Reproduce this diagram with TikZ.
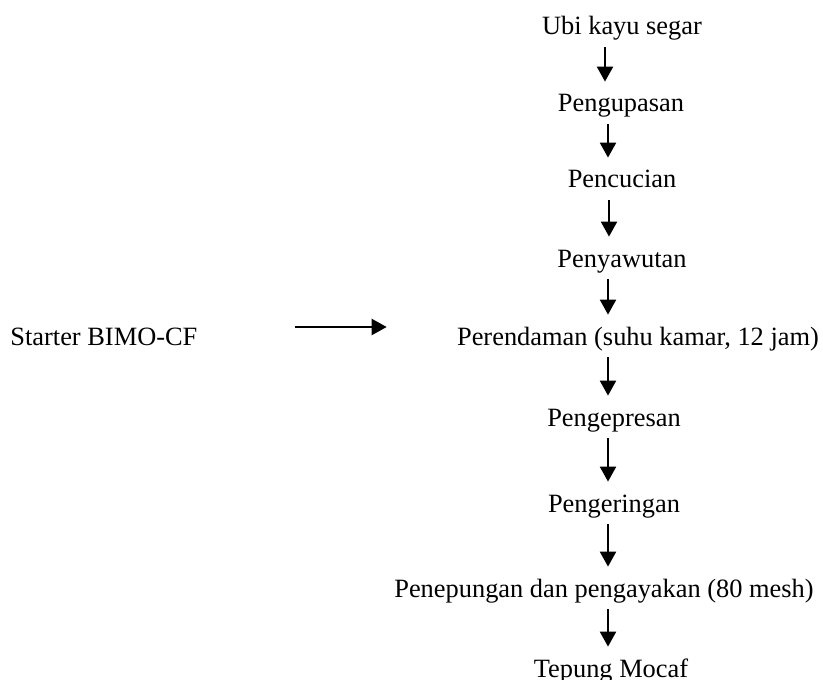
\documentclass[tikz,border=0pt]{standalone}
\usepackage{fontspec}
\setmainfont{Liberation Serif}
\usetikzlibrary{arrows.meta}

\tikzset{
  tahap/.style={anchor=base, inner sep=0pt, text height=9pt, text depth=3pt,
    font=\fontsize{13.2}{15}\selectfont},
  panah/.style={-{Triangle[width=8pt,length=7.5pt]}, line width=1.1pt,
    shorten <=3pt, shorten >=6pt}
}

\begin{document}
\begin{tikzpicture}[x=0.5pt, y=-0.5pt]
    \useasboundingbox (0,0) rectangle (823,679);
    \node[tahap] (ubi) at (622,35) {Ubi kayu segar};
    \node[tahap] (kupas) at (621,112) {Pengupasan};
    \node[tahap] (cuci) at (622,188) {Pencucian};
    \node[tahap] (sawut) at (622,267) {Penyawutan};
    \node[tahap] (rendam) at (638,345) {Perendaman (suhu kamar, 12 jam)};
    \node[tahap] (press) at (614,426) {Pengepresan};
    \node[tahap] (kering) at (614,512) {Pengeringan};
    \node[tahap] (tepung) at (604,597) {Penepungan dan pengayakan (80 mesh)};
    \node[tahap] (mocaf) at (611,677) {Tepung Mocaf};
    %
    \node[tahap, anchor=base west] (starter) at (10,345) {Starter BIMO-CF};
    %
    \foreach \a/\b/\x in {ubi/kupas/605, kupas/cuci/608, cuci/sawut/609,
                          sawut/rendam/608, rendam/press/608, press/kering/608,
                          kering/tepung/608, tepung/mocaf/608}
      \draw[panah] (\a.south -| \x,0) -- (\b.north -| \x,0);
    \draw[panah, shorten <=48.5pt, shorten >=35pt]
      ([yshift=6pt]starter.east) -- ([yshift=6pt]rendam.west);
\end{tikzpicture}
\end{document}
